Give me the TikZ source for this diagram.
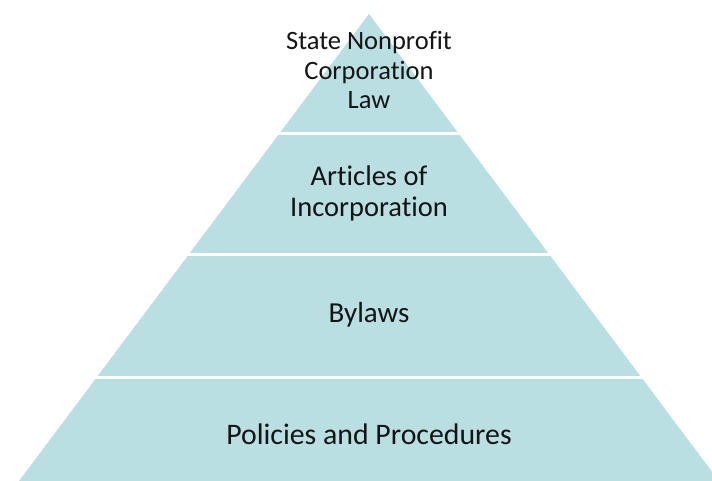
\documentclass[tikz,border=0pt]{standalone}
\usepackage{fontspec}
\setmainfont[Ligatures={NoCommon}]{Carlito}
\definecolor{pyrfill}{RGB}{185,223,227}
\definecolor{pyrtext}{RGB}{20,20,20}
\begin{document}
\begin{tikzpicture}[x=1pt,y=-1pt,
  lbl/.style={anchor=base,inner sep=0pt,text=pyrtext},
  gap/.style={draw=white,line width=3pt}]
\useasboundingbox (0,0) rectangle (712,481);
\clip (0,0) rectangle (712,481);
\fill[white] (0,0) rectangle (712,481);
\coordinate (apex) at (369,14);
\coordinate (bl) at (-5,513);
\coordinate (br) at (743,513);
\fill[pyrfill] (apex) -- (br) -- (bl) -- cycle;
\draw[gap] (100,133.3) -- (640,133.3);
\draw[gap] (50,254.8) -- (690,254.8);
\draw[gap] (0,377) -- (712,377);
\node[lbl,font=\fontsize{26.5}{30}\selectfont] (t1) at (369,49.8) {State Nonprofit};
\node[lbl,font=\fontsize{26.5}{30}\selectfont] (t2) at (369,79.5) {Corporation};
\node[lbl,font=\fontsize{26.5}{30}\selectfont] (t3) at (369,108.3) {Law};
\node[lbl,font=\fontsize{28.5}{32}\selectfont] (a1) at (369,186) {Articles of};
\node[lbl,font=\fontsize{28.5}{32}\selectfont] (a2) at (369,217) {Incorporation};
\node[lbl,font=\fontsize{29}{33}\selectfont] (b1) at (369,322.7) {Bylaws};
\node[lbl,font=\fontsize{29.8}{34}\selectfont] (p1) at (369,444) {Policies and Procedures};
\end{tikzpicture}
\end{document}
